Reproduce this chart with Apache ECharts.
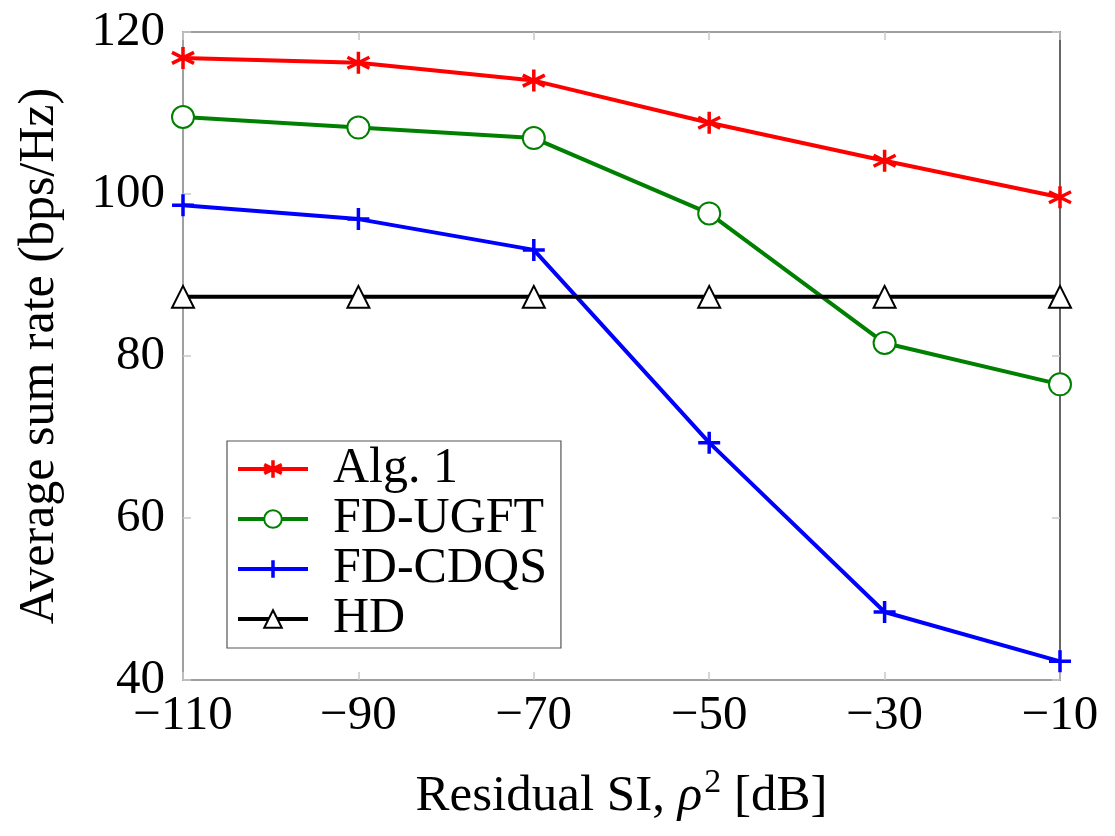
<!DOCTYPE html>
<html><head><meta charset="utf-8">
<script src="https://cdn.jsdelivr.net/npm/echarts@6/dist/echarts.min.js"></script>
<style>html,body{margin:0;padding:0;background:#fff}#c{width:1115px;height:836px}</style>
</head><body><div id="c"></div>
<script>
const categories = [-110, -90, -70, -50, -30, -10];
const alg1 = [116.8, 116.2, 114.0, 108.8, 104.1, 99.6];
const fdUgft = [109.5, 108.2, 106.9, 97.6, 81.6, 76.5];
const fdCdqs = [98.6, 96.9, 93.1, 69.3, 48.4, 42.3];
const hd = [87.3, 87.3, 87.3, 87.3, 87.3, 87.3];
const xTicks = [-110, -90, -70, -50, -30, -10];
const yTicks = [40, 60, 80, 100, 120];

const FONT = '"Liberation Serif", "DejaVu Serif", serif';
const fmt = v => (v < 0 ? '\u2212' + Math.abs(v) : String(v));
const pairs = arr => categories.map((c, i) => [c, arr[i]]);

const star = 'path://M0,-10L0,10M-8.66,-5L8.66,5M-8.66,5L8.66,-5';
const plus = 'path://M0,-10L0,10M-10,0L10,0';

function mk(name, data, color, symbol, size) {
  return {
    name, type: 'line', data: pairs(data), symbol, symbolSize: size,
    lineStyle: { color, width: 4 },
    itemStyle: { color: symbol.startsWith('path') ? 'rgba(0,0,0,0)' : color, borderColor: color, borderWidth: 3.5 },
    emphasis: { disabled: true }, animation: false, z: 3
  };
}

const chart = echarts.init(document.getElementById('c'));
chart.setOption({
  animation: false,
  grid: { left: 183, right: 55, top: 32, bottom: 156 },
  legend: {
    left: 227, top: 441, orient: 'vertical',
    backgroundColor: '#fff', borderColor: '#555', borderWidth: 1.2,
    padding: [3, 14, 4, 9], itemGap: 0, itemWidth: 70, itemHeight: 22,
    lineStyle: { width: 4 },
    itemStyle: { borderWidth: 3.5 },
    textStyle: { fontFamily: FONT, fontSize: 50, color: '#000', lineHeight: 50, padding: [0, 0, 0, 20] },
    data: ['Alg. 1', 'FD-UGFT', 'FD-CDQS', 'HD']
  },
  xAxis: [{
    type: 'value', min: -110, max: -10, interval: 20,
    name: '{a|Residual SI, }{i|ρ}{s|2}{a| [dB]}',
    nameLocation: 'middle', nameGap: 86,
    nameTextStyle: { rich: {
      a: { fontFamily: FONT, fontSize: 51, color: '#000' },
      i: { fontFamily: FONT, fontSize: 51, fontStyle: 'italic', color: '#000' },
      s: { fontFamily: FONT, fontSize: 34, color: '#000', padding: [0, 0, 28, 2] }
    } },
    axisLine: { show: true, lineStyle: { color: '#808080', width: 1.5 } },
    axisTick: { show: true, inside: true, length: 8, lineStyle: { color: '#c8c8c8', width: 1.5 } },
    axisLabel: { fontFamily: FONT, fontSize: 49, color: '#000', margin: 12, formatter: fmt, customValues: xTicks },
    splitLine: { show: false }
  }, {
    type: 'value', min: -110, max: -10, interval: 20, position: 'top',
    axisLine: { show: true, lineStyle: { color: '#808080', width: 1.5 } },
    axisTick: { show: true, inside: true, length: 8, lineStyle: { color: '#c8c8c8', width: 1.5 } },
    axisLabel: { show: false }, splitLine: { show: false }
  }],
  yAxis: [{
    type: 'value', min: 40, max: 120, interval: 20,
    name: 'Average sum rate (bps/Hz)', nameLocation: 'middle', nameGap: 118, nameRotate: 90,
    nameTextStyle: { fontFamily: FONT, fontSize: 50, color: '#000' },
    axisLine: { show: true, lineStyle: { color: '#808080', width: 1.5 } },
    axisTick: { show: true, inside: true, length: 8, lineStyle: { color: '#c8c8c8', width: 1.5 } },
    axisLabel: { fontFamily: FONT, fontSize: 49, color: '#000', margin: 18, customValues: yTicks },
    splitLine: { show: false }
  }, {
    type: 'value', min: 40, max: 120, interval: 20, position: 'right',
    axisLine: { show: true, lineStyle: { color: '#333', width: 1.5 } },
    axisTick: { show: true, inside: true, length: 8, lineStyle: { color: '#c8c8c8', width: 1.5 } },
    axisLabel: { show: false }, splitLine: { show: false }
  }],
  series: [
    mk('Alg. 1', alg1, '#ff0000', star, 22),
    mk('FD-UGFT', fdUgft, '#008000', 'emptyCircle', 22),
    mk('FD-CDQS', fdCdqs, '#0000ff', plus, 22),
    mk('HD', hd, '#000000', 'emptyTriangle', 22)
  ]
});
</script></body></html>
